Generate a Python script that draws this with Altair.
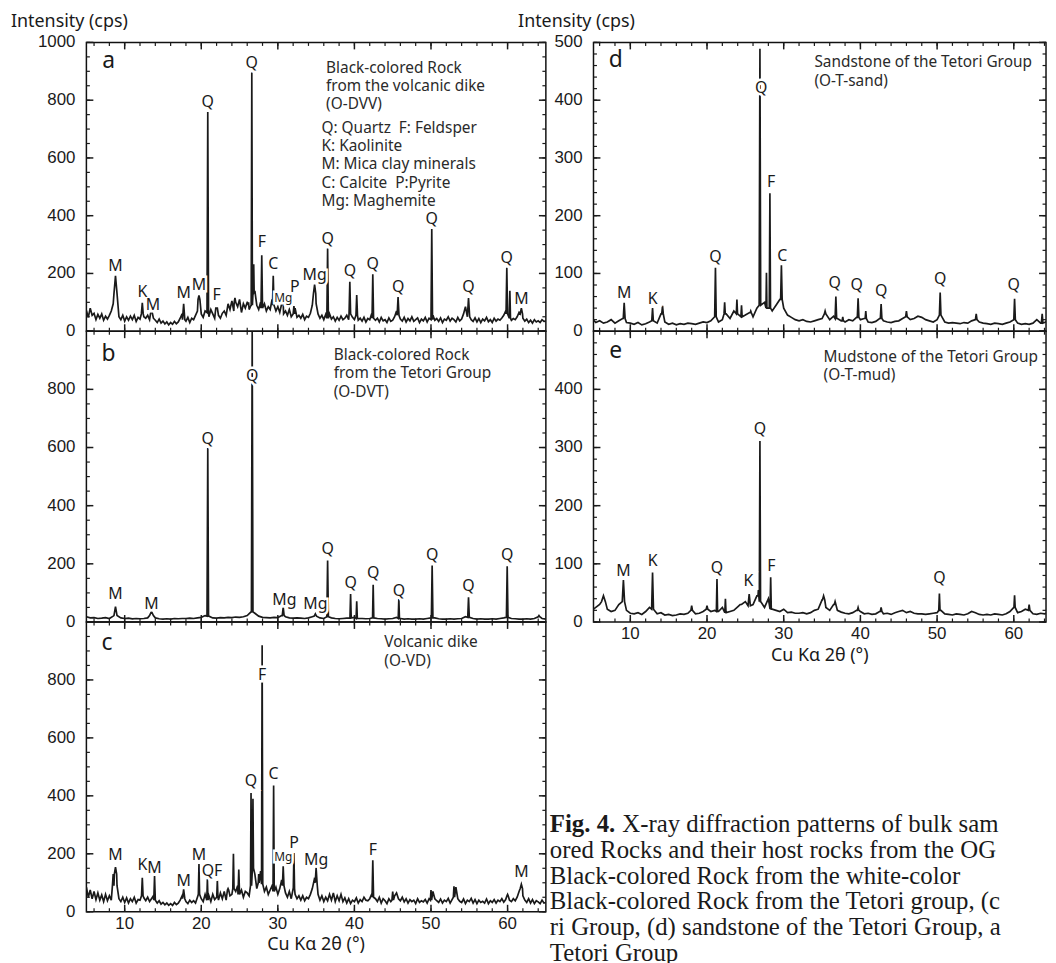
import altair as alt
import pandas as pd

# ---------------- data ----------------
X0 = 5.0
STEP_FINE = 0.25    # panels a, c
STEP_COARSE = 0.5   # panels b, d, e

# Panel a  (O-DVV) baseline, 5..65 deg, step 0.25
A_BASE = [
    72, 48, 80, 55, 62, 40, 58, 45, 60, 38, 52, 42, 55, 70, 95, 130,
    85, 50, 40, 55, 35, 50, 38, 52, 40, 55, 34, 48, 42, 60, 50, 45,
    55, 40, 62, 45, 38, 30, 42, 28, 35, 25, 32, 22, 30, 24, 34, 26,
    32, 45, 60, 40, 35, 48, 30, 45, 40, 55, 70, 110, 60, 48, 70, 65,
    50, 75, 60, 45, 80, 55, 45, 62, 70, 55, 95, 75, 105, 70, 100, 85,
    110, 65, 95, 80, 100, 75, 90, 130, 140, 90, 75, 100, 80, 95, 70, 85,
    75, 110, 90, 70, 85, 65, 95, 60, 70, 55, 75, 50, 60, 80, 48, 55,
    45, 58, 40, 52, 48, 62, 90, 130, 95, 60, 45, 55, 40, 58, 45, 60,
    42, 50, 35, 48, 38, 52, 40, 45, 55, 40, 60, 48, 40, 55, 38, 45,
    35, 48, 32, 44, 40, 60, 45, 38, 45, 32, 48, 36, 40, 30, 46, 34,
    38, 50, 70, 55, 42, 35, 48, 32, 44, 36, 50, 34, 40, 46, 30, 42,
    36, 48, 32, 45, 40, 55, 38, 44, 34, 46, 30, 42, 38, 50, 35, 45,
    40, 32, 48, 36, 42, 60, 85, 60, 50, 40, 34, 46, 32, 44, 30, 42,
    36, 48, 33, 40, 30, 45, 35, 42, 38, 46, 55, 70, 60, 45, 38, 44,
    40, 50, 65, 60, 45, 35, 42, 30, 38, 28, 40, 32, 36, 30, 40, 34,
    35,
]
A_PEAKS = [  # (2theta, cps, half width)
    (8.8, 192, 0.2), (12.3, 98, 0.12), (13.5, 75, 0.12), (17.7, 95, 0.15),
    (19.7, 124, 0.12), (20.85, 759, 0.1), (22.0, 80, 0.1), (24.4, 115, 0.1),
    (26.1, 95, 0.08), (26.6, 896, 0.08), (26.85, 232, 0.06), (27.9, 263, 0.1),
    (29.4, 192, 0.1), (30.6, 100, 0.1), (32.1, 87, 0.1), (34.8, 161, 0.15),
    (36.5, 286, 0.1), (39.4, 171, 0.1), (40.3, 125, 0.1), (42.4, 197, 0.1),
    (45.7, 118, 0.12), (50.1, 354, 0.1), (54.9, 115, 0.15), (59.9, 220, 0.1),
    (60.3, 140, 0.08), (61.8, 80, 0.15),
]
A_LABELS = [
    ("M", 8.8, 225, 16), ("K", 12.3, 135, 16), ("M", 13.7, 90, 16), ("M", 17.7, 133, 16),
    ("M", 19.7, 160, 16), ("Q", 20.85, 793, 16), ("F", 22.0, 124, 16), ("Q", 26.6, 930, 16),
    ("F", 27.9, 308, 16), ("C", 29.4, 234, 16), ("Mg", 30.7, 116, 12), ("P", 32.2, 154, 16),
    ("Mg", 34.8, 194, 16), ("Q", 36.5, 320, 16), ("Q", 39.4, 207, 16), ("Q", 42.4, 232, 16),
    ("Q", 45.7, 154, 16), ("Q", 50.1, 390, 16), ("Q", 54.9, 152, 16), ("Q", 59.9, 254, 16),
    ("M", 61.8, 110, 16),
]
A_NOTES = [
    ("Black-colored Rock", 36.3, 912), ("from the volcanic dike", 36.3, 850), ("(O-DVV)", 36.3, 785),
    ("Q: Quartz\u00a0 F: Feldsper", 35.7, 702), ("K: Kaolinite", 35.7, 640),
    ("M: Mica clay minerals", 35.7, 578), ("C: Calcite\u00a0 P:Pyrite", 35.7, 513),
    ("Mg: Maghemite", 35.7, 450),
]
A_LETTER = ("a", 7.9, 935)

# Panel b  (O-DVT) baseline, step 0.5
B_BASE = [
    18, 14, 15, 12, 13, 15, 12, 20, 22, 14, 12, 13, 11, 12, 11, 12,
    14, 22, 14, 11, 10, 11, 10, 12, 11, 12, 12, 13, 12, 14, 16, 22,
    20, 14, 13, 15, 14, 16, 15, 17, 16, 18, 22, 35, 30, 20, 16, 15,
    14, 16, 15, 22, 18, 14, 13, 14, 13, 12, 14, 18, 20, 14, 12, 18,
    14, 12, 11, 12, 13, 14, 16, 12, 12, 11, 12, 14, 12, 11, 10, 11,
    12, 16, 12, 10, 11, 10, 10, 11, 10, 12, 14, 14, 11, 10, 10, 11,
    10, 11, 12, 18, 16, 12, 10, 11, 10, 10, 11, 10, 12, 14, 16, 12,
    11, 10, 10, 11, 10, 12, 18, 12, 10,
]
B_PEAKS = [
    (8.8, 53, 0.2), (13.5, 36, 0.25), (20.85, 598, 0.1), (26.65, 1000, 0.1),
    (30.7, 50, 0.12), (34.9, 28, 0.15), (36.5, 211, 0.1), (39.5, 96, 0.08),
    (40.3, 71, 0.08), (42.45, 128, 0.08), (45.8, 79, 0.08), (50.15, 194, 0.1),
    (54.9, 85, 0.1), (59.95, 192, 0.1), (64.1, 22, 0.1),
]
B_LABELS = [
    ("M", 8.8, 96, 16), ("M", 13.5, 62, 16), ("Q", 20.85, 630, 16), ("Q", 26.65, 847, 16),
    ("Mg", 30.85, 77, 16), ("Mg", 34.9, 62, 16), ("Q", 36.5, 251, 16), ("Q", 39.5, 133, 16),
    ("Q", 42.45, 168, 16), ("Q", 45.8, 108, 16), ("Q", 50.15, 230, 16), ("Q", 54.9, 125, 16),
    ("Q", 59.95, 230, 16),
]
B_NOTES = [("Black-colored Rock", 37.3, 918), ("from the Tetori Group", 37.3, 855), ("(O-DVT)", 37.3, 791)]
B_LETTER = ("b", 7.9, 920)

# Panel c  (O-VD) baseline, step 0.25
C_BASE = [
    85, 50, 75, 45, 70, 42, 65, 40, 58, 35, 60, 38, 55, 40, 90, 130,
    90, 45, 35, 50, 32, 48, 30, 45, 35, 50, 30, 42, 40, 55, 48, 38,
    50, 35, 45, 55, 40, 30, 38, 26, 32, 24, 30, 22, 28, 22, 32, 25,
    30, 40, 55, 45, 35, 28, 40, 32, 38, 30, 50, 60, 45, 35, 60, 40,
    55, 35, 60, 42, 50, 40, 65, 45, 70, 40, 75, 55, 60, 80, 70, 90,
    60, 75, 50, 70, 65, 55, 90, 150, 130, 80, 100, 140, 95, 70, 85, 60,
    75, 90, 70, 85, 60, 80, 110, 90, 65, 50, 70, 45, 80, 60, 45, 55,
    40, 55, 38, 50, 45, 60, 80, 110, 100, 60, 40, 55, 35, 50, 38, 60,
    40, 65, 35, 55, 38, 60, 35, 48, 30, 45, 28, 40, 35, 48, 30, 42,
    35, 50, 40, 38, 45, 60, 50, 45, 35, 50, 30, 45, 38, 28, 45, 35,
    40, 55, 65, 45, 38, 50, 34, 45, 30, 42, 35, 40, 28, 45, 32, 38,
    34, 42, 30, 45, 40, 70, 45, 38, 32, 44, 30, 40, 35, 46, 30, 42,
    50, 85, 45, 36, 32, 44, 28, 40, 35, 46, 30, 42, 28, 40, 32, 36,
    30, 44, 28, 38, 32, 42, 30, 40, 35, 45, 33, 42, 55, 40, 35, 45,
    38, 50, 70, 80, 55, 40, 32, 45, 30, 42, 28, 38, 34, 28, 40, 30,
    32,
]
C_PEAKS = [
    (8.5, 130, 0.1), (8.8, 154, 0.15), (12.3, 117, 0.1), (13.9, 123, 0.1),
    (17.7, 77, 0.15), (19.7, 165, 0.08), (20.8, 112, 0.08), (22.1, 108, 0.08),
    (23.5, 80, 0.08), (24.2, 200, 0.08), (24.9, 146, 0.1), (26.5, 410, 0.07),
    (26.75, 390, 0.07), (27.5, 130, 0.06), (27.95, 920, 0.08), (29.45, 436, 0.08),
    (30.7, 157, 0.1), (32.1, 203, 0.08), (35.0, 152, 0.12), (42.4, 178, 0.1),
    (45.0, 70, 0.1), (50.0, 75, 0.08), (53.0, 88, 0.08), (60.0, 60, 0.08),
    (61.8, 95, 0.15),
]
C_LABELS = [
    ("M", 8.8, 194, 16), ("K", 12.3, 160, 16), ("M", 13.9, 152, 16), ("M", 17.7, 106, 16),
    ("M", 19.7, 194, 16), ("QF", 21.4, 142, 16), ("Q", 26.5, 451, 16), ("F", 27.95, 818, 16),
    ("C", 29.45, 474, 16), ("Mg", 30.7, 188, 12), ("P", 32.1, 237, 16), ("Mg", 35.0, 180, 16),
    ("F", 42.4, 214, 16), ("M", 61.8, 138, 16),
]
C_NOTES = [("Volcanic dike", 43.9, 932), ("(O-VD)", 43.9, 866)]
C_LETTER = ("c", 7.7, 926)

# Panel d  (O-T-sand) baseline, step 0.5
D_BASE = [
    22, 15, 18, 14, 16, 20, 14, 18, 22, 15, 14, 12, 15, 11, 13, 16,
    18, 14, 30, 16, 12, 14, 11, 13, 12, 14, 13, 12, 14, 16, 15, 18,
    25, 16, 20, 30, 22, 35, 30, 25, 28, 32, 25, 40, 45, 50, 40, 35,
    45, 55, 40, 28, 24, 20, 18, 20, 17, 16, 18, 20, 22, 30, 20, 26,
    22, 18, 16, 20, 18, 24, 20, 22, 16, 15, 17, 22, 18, 16, 15, 17,
    18, 22, 25, 20, 22, 26, 24, 20, 18, 16, 20, 28, 16, 14, 15, 14,
    13, 15, 14, 18, 20, 16, 14, 13, 12, 14, 13, 12, 14, 16, 20, 14,
    12, 13, 12, 14, 20, 14, 15, 18,
]
D_PEAKS = [
    (9.2, 49, 0.12), (12.9, 40, 0.1), (14.2, 44, 0.1), (21.1, 110, 0.1),
    (22.3, 50, 0.08), (23.9, 55, 0.08), (24.5, 45, 0.08), (25.7, 35, 0.08),
    (26.9, 489, 0.1), (27.75, 101, 0.06), (28.2, 239, 0.08), (29.7, 114, 0.1),
    (35.4, 35, 0.1), (36.8, 60, 0.1), (37.7, 25, 0.08), (39.7, 57, 0.1),
    (40.7, 35, 0.08), (42.7, 47, 0.1), (46.0, 35, 0.1), (50.4, 67, 0.1),
    (55.1, 30, 0.1), (60.1, 56, 0.1), (63.7, 30, 0.1),
]
D_LABELS = [
    ("M", 9.2, 66, 16), ("K", 12.9, 55, 16), ("Q", 21.1, 129, 16), ("Q", 27.05, 421, 16),
    ("F", 28.35, 259, 16), ("C", 29.8, 130, 16), ("Q", 36.65, 83, 16), ("Q", 39.5, 80, 16),
    ("Q", 42.7, 69, 16), ("Q", 50.4, 91, 16), ("Q", 60.0, 80, 16),
]
D_NOTES = [("Sandstone of the Tetori Group", 34.0, 466), ("(O-T-sand)", 34.0, 433)]
D_LETTER = ("d", 8.1, 470)

# Panel e  (O-T-mud) baseline, step 0.5
E_BASE = [
    20, 25, 30, 35, 22, 18, 20, 30, 35, 20, 15, 14, 16, 13, 18, 25,
    22, 14, 16, 12, 13, 11, 12, 14, 13, 15, 20, 14, 15, 18, 22, 18,
    20, 18, 25, 16, 18, 20, 26, 30, 35, 28, 30, 45, 35, 25, 40, 22,
    20, 18, 22, 16, 17, 15, 15, 16, 14, 16, 20, 22, 38, 25, 20, 30,
    20, 17, 15, 14, 16, 20, 18, 14, 15, 13, 14, 18, 14, 15, 13, 16,
    18, 20, 16, 18, 15, 14, 14, 13, 14, 15, 16, 20, 14, 13, 12, 14,
    13, 12, 14, 18, 16, 13, 12, 13, 12, 14, 13, 12, 14, 18, 25, 16,
    18, 22, 20, 14, 13, 15, 14, 16,
]
E_PEAKS = [
    (6.5, 45, 0.25), (9.1, 72, 0.15), (12.9, 85, 0.12), (18.0, 28, 0.1),
    (20.0, 28, 0.1), (21.3, 74, 0.08), (22.4, 40, 0.08), (24.4, 30, 0.08),
    (25.5, 48, 0.15), (26.7, 55, 0.05), (26.9, 311, 0.08), (28.3, 77, 0.08),
    (35.2, 45, 0.15), (36.7, 35, 0.1), (39.7, 25, 0.1), (42.7, 25, 0.1),
    (50.3, 49, 0.08), (60.1, 46, 0.08), (62.0, 30, 0.1),
]
E_LABELS = [
    ("M", 9.1, 88, 16), ("K", 12.9, 105, 16), ("Q", 21.3, 92, 16), ("K", 25.4, 70, 16),
    ("Q", 26.9, 331, 16), ("F", 28.4, 97, 16), ("Q", 50.3, 76, 16),
]
E_NOTES = [("Mudstone of the Tetori Group", 35.2, 456), ("(O-T-mud)", 35.2, 424)]
E_LETTER = ("e", 8.1, 466)

X_MAJOR = [10, 20, 30, 40, 50, 60]
X_MINOR = list(range(6, 66, 2))
Y_MAJOR_L = [0, 200, 400, 600, 800, 1000]
Y_MINOR_L = list(range(0, 1001, 50))
Y_MAJOR_R = [0, 100, 200, 300, 400, 500]
Y_MINOR_R = list(range(0, 501, 20))

Y_TITLE = "Intensity (cps)"
X_TITLE = "Cu K\u03b1 2\u03b8 (\u00b0)"

CAPTION_BOLD = "Fig. 4."
CAPTION_LINES = [
    "X-ray diffraction patterns of bulk sam",
    "ored Rocks and their host rocks from the OG",
    "Black-colored Rock from the white-color",
    "Black-colored Rock from the Tetori group, (c",
    "ri Group, (d) sandstone of the Tetori Group, a",
    "Tetori Group",
]

# ---------------- styling ----------------
INK = "#1a1a1a"
TICK_FONT = "Liberation Sans"
TEXT_FONT = "Noto Sans"
LW = 463
RW = 456
XDOM_L = [5, 65]
XDOM_R = [5.2, 64.2]
MAJ, MIN = 7, 3.5


def spectrum(base, step, peaks):
    xs = [X0 + i * step for i in range(len(base))]
    pts = []
    for x, y in zip(xs, base):
        if any(abs(x - p) <= hw for p, h, hw in peaks):
            continue
        pts.append((x, y))
    for p, h, hw in peaks:
        i = min(max(int(round((p - X0) / step)), 0), len(base) - 1)
        foot = base[i]
        pts += [(p - hw, foot), (p, h), (p + hw, foot)]
    pts.sort()
    return pd.DataFrame(pts, columns=["t", "c"])


def panel(base, step, peaks, labels, notes, letter, xdom, ydom, ymaj, ymin,
          w, h, xlabels=False, ylabel_max=None, ytitle=False):
    xs = alt.Scale(domain=xdom, nice=False, zero=False)
    ys = alt.Scale(domain=ydom, nice=False, zero=False)
    X = lambda f: alt.X(f, scale=xs, axis=None)
    Y = lambda f: alt.Y(f, scale=ys, axis=None)

    spec = spectrum(base, step, peaks)
    lab = pd.DataFrame(labels, columns=["s", "t", "c", "fs"])
    note = pd.DataFrame(notes, columns=["s", "t", "c"])
    let = pd.DataFrame([letter], columns=["s", "t", "c"])

    layers = [alt.Chart(spec).mark_line(color=INK, strokeWidth=1.7, clip=True).encode(
        x=X("t:Q"), y=Y("c:Q"))]

    # inward tick marks on all four sides, positioned through the scales
    xmaj = pd.DataFrame({"v": X_MAJOR})
    xmin = pd.DataFrame({"v": X_MINOR})
    ymj = pd.DataFrame({"v": ymaj})
    ymn = pd.DataFrame({"v": ymin})
    for df, ln, sw in ((xmaj, MAJ, 1.5), (xmin, MIN, 1.2)):
        layers.append(alt.Chart(df).mark_rule(color=INK, strokeWidth=sw).encode(
            x=X("v:Q"), y=alt.value(h), y2=alt.value(h - ln)))
        layers.append(alt.Chart(df).mark_rule(color=INK, strokeWidth=sw).encode(
            x=X("v:Q"), y=alt.value(0), y2=alt.value(ln)))
    for df, ln, sw in ((ymj, MAJ, 1.5), (ymn, MIN, 1.2)):
        layers.append(alt.Chart(df).mark_rule(color=INK, strokeWidth=sw).encode(
            y=Y("v:Q"), x=alt.value(0), x2=alt.value(ln)))
        layers.append(alt.Chart(df).mark_rule(color=INK, strokeWidth=sw).encode(
            y=Y("v:Q"), x=alt.value(w), x2=alt.value(w - ln)))

    # tick labels (text through the scales)
    ylab_vals = [v for v in ymaj if ylabel_max is None or v < ylabel_max]
    ylab = pd.DataFrame({"v": ylab_vals, "s": [str(v) for v in ylab_vals]})
    layers.append(alt.Chart(ylab).mark_text(
        font=TICK_FONT, fontSize=17, color=INK, align="right", baseline="middle",
        dx=-11).encode(x=alt.value(0), y=Y("v:Q"), text="s:N"))
    if xlabels:
        xlab = pd.DataFrame({"v": X_MAJOR, "s": [str(v) for v in X_MAJOR]})
        layers.append(alt.Chart(xlab).mark_text(
            font=TICK_FONT, fontSize=17, color=INK, align="center", baseline="top",
            dy=4).encode(x=X("v:Q"), y=alt.value(h), text="s:N"))
        layers.append(alt.Chart(pd.DataFrame({"s": [X_TITLE]})).mark_text(
            font=TEXT_FONT, fontSize=18, color=INK, align="center", baseline="top",
            dy=25).encode(x=alt.value(w / 2), y=alt.value(h), text="s:N"))
    if ytitle:
        layers.append(alt.Chart(pd.DataFrame({"s": [Y_TITLE]})).mark_text(
            font=TEXT_FONT, fontSize=18, color=INK, align="left", baseline="top",
            dx=-76, dy=-30).encode(x=alt.value(0), y=alt.value(0), text="s:N"))

    layers.append(alt.Chart(lab).mark_text(
        font=TEXT_FONT, baseline="middle", stroke="white", strokeWidth=5,
        fill="white").encode(x=X("t:Q"), y=Y("c:Q"), text="s:N",
                             size=alt.Size("fs:Q", scale=None)))
    layers.append(alt.Chart(lab).mark_text(
        font=TEXT_FONT, baseline="middle", color=INK).encode(
        x=X("t:Q"), y=Y("c:Q"), text="s:N", size=alt.Size("fs:Q", scale=None)))
    layers.append(alt.Chart(note).mark_text(
        font=TEXT_FONT, fontSize=15.5, align="left", baseline="middle",
        color="#2a2a2a").encode(x=X("t:Q"), y=Y("c:Q"), text="s:N"))
    layers.append(alt.Chart(let).mark_text(
        font=TEXT_FONT, fontSize=23, baseline="middle", color=INK).encode(
        x=X("t:Q"), y=Y("c:Q"), text="s:N"))
    return alt.layer(*layers).properties(width=w, height=h)


pa = panel(A_BASE, STEP_FINE, A_PEAKS, A_LABELS, A_NOTES, A_LETTER, XDOM_L, [0, 1000],
           Y_MAJOR_L, Y_MINOR_L, LW, 291, ytitle=True)
pb = panel(B_BASE, STEP_COARSE, B_PEAKS, B_LABELS, B_NOTES, B_LETTER, XDOM_L, [0, 1000],
           Y_MAJOR_L, Y_MINOR_L, LW, 293, ylabel_max=1000)
pc = panel(C_BASE, STEP_FINE, C_PEAKS, C_LABELS, C_NOTES, C_LETTER, XDOM_L, [0, 1000],
           Y_MAJOR_L, Y_MINOR_L, LW, 292, xlabels=True, ylabel_max=1000)
pd_ = panel(D_BASE, STEP_COARSE, D_PEAKS, D_LABELS, D_NOTES, D_LETTER, XDOM_R, [0, 500],
            Y_MAJOR_R, Y_MINOR_R, RW, 291, ytitle=True)
pe = panel(E_BASE, STEP_COARSE, E_PEAKS, E_LABELS, E_NOTES, E_LETTER, XDOM_R, [0, 500],
           Y_MAJOR_R, Y_MINOR_R, RW, 293, xlabels=True, ylabel_max=500)

cap_df = pd.DataFrame({"i": list(range(len(CAPTION_LINES))), "s": CAPTION_LINES})
cap_scale = alt.Scale(domain=[-7.9, 3.4], reverse=True, nice=False, zero=False)
CAP_FS = 25
cap_bold = alt.Chart(pd.DataFrame({"i": [0], "s": [CAPTION_BOLD]})).mark_text(
    font="Liberation Serif", fontSize=CAP_FS, fontWeight="bold", align="left",
    baseline="middle", color=INK, dx=-44).encode(
    x=alt.value(0), y=alt.Y("i:Q", scale=cap_scale, axis=None), text="s:N")
cap_first = alt.Chart(cap_df[cap_df.i == 0]).mark_text(
    font="Liberation Serif", fontSize=CAP_FS, align="left", baseline="middle",
    color=INK, dx=29).encode(
    x=alt.value(0), y=alt.Y("i:Q", scale=cap_scale, axis=None), text="s:N")
cap_rest = alt.Chart(cap_df[cap_df.i > 0]).mark_text(
    font="Liberation Serif", fontSize=CAP_FS, align="left", baseline="middle",
    color=INK, dx=-44).encode(
    x=alt.value(0), y=alt.Y("i:Q", scale=cap_scale, axis=None), text="s:N")
cap = alt.layer(cap_bold, cap_first, cap_rest).properties(
    width=RW, height=292, view=alt.ViewBackground(strokeOpacity=0))

chart = alt.concat(pa, pd_, pb, pe, pc, cap, columns=2,
                   spacing={"row": 0, "column": 48}, bounds="flush").properties(
    padding={"left": 2, "top": 0, "right": 0, "bottom": 0},
    background="white",
).configure_view(stroke="#111", strokeWidth=1.5)

chart.save("out.html", embed_options={"renderer": "svg", "actions": False})
